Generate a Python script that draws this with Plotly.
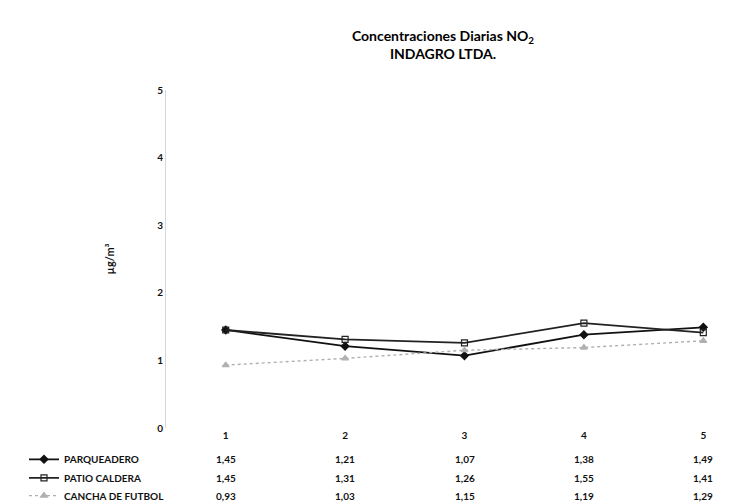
import plotly.graph_objects as go

categories = ["1", "2", "3", "4", "5"]
parqueadero = [1.45, 1.21, 1.07, 1.38, 1.49]
patio_caldera = [1.45, 1.31, 1.26, 1.55, 1.41]
cancha_futbol = [0.93, 1.03, 1.15, 1.19, 1.29]
series_names = ["PARQUEADERO", "PATIO CALDERA", "CANCHA DE FUTBOL"]
y_ticks = [0, 1, 2, 3, 4, 5]

W, H = 756, 503
ML, MR, MT, MB = 158, 1, 82, 76
plot_h = H - MT - MB

series = [parqueadero, patio_caldera, cancha_futbol]
styles = [
    dict(color="#111111", symbol="diamond", dash="solid", width=1.8, size=6),
    dict(color="#222222", symbol="square-open", dash="solid", width=1.8, size=6),
    dict(color="#b0b0b0", symbol="triangle-up", dash="dot", width=1.4, size=6),
]
row_px = [459, 478, 496]

fig = go.Figure()
for i, (name, vals, st) in enumerate(zip(series_names, series, styles)):
    fig.add_trace(go.Scatter(
        x=categories, y=vals, name=name, mode="lines+markers",
        line=dict(color=st["color"], width=st["width"], dash=st["dash"]),
        marker=dict(symbol=st["symbol"], size=st["size"], color=st["color"],
                    line=dict(color=st["color"], width=1.2)),
        legend="legend" if i == 0 else f"legend{i+1}",
    ))

font_fam = "Lato, 'DejaVu Sans Condensed', sans-serif"
annotations = []
for r, vals in enumerate(series):
    ypap = (MT + plot_h - row_px[r]) / plot_h
    for ci, v in enumerate(vals):
        annotations.append(dict(
            x=ci, xref="x", y=ypap, yref="paper",
            text="<b>" + f"{v:.2f}".replace(".", ",") + "</b>",
            showarrow=False, font=dict(size=10, color="#111111", family=font_fam),
            xanchor="center", yanchor="middle",
        ))

plot_w = W - ML - MR
legends = {}
for r in range(3):
    key = "legend" if r == 0 else f"legend{r+1}"
    ypap = (MT + plot_h - row_px[r]) / plot_h
    legends[key] = dict(
        x=(16 - ML) / plot_w, xanchor="left", y=ypap, yanchor="middle",
        bgcolor="rgba(0,0,0,0)", borderwidth=0, itemwidth=30,
        font=dict(size=10, color="#111111", family=font_fam, weight="bold"),
    )

fig.update_layout(
    width=W, height=H,
    margin=dict(l=ML, r=MR, t=MT, b=MB),
    paper_bgcolor="white", plot_bgcolor="white",
    title=dict(
        text="<b>Concentraciones Diarias NO<sub>2</sub><br>INDAGRO LTDA.</b>",
        x=435 / W, xanchor="center", y=1 - 33 / H, yanchor="top",
        font=dict(size=14, color="#000000", family=font_fam),
    ),
    xaxis=dict(
        type="category", categoryorder="array", categoryarray=categories,
        showgrid=False, showline=False, zeroline=False, ticks="",
        tickfont=dict(size=10, color="#111111", family=font_fam, weight="bold"),
        range=[-0.5, 4.5],
    ),
    yaxis=dict(
        range=[0, 5], tickvals=y_ticks, showgrid=False, zeroline=False,
        showline=True, linecolor="#d6d6d6", linewidth=1, ticks="",
        tickfont=dict(size=10, color="#111111", family=font_fam, weight="bold"),
        title=dict(text="<b>µg/m³</b>", standoff=40,
                   font=dict(size=11, color="#111111", family=font_fam)),
    ),
    annotations=annotations,
    showlegend=True,
    **legends,
)

fig.write_html("out.html")
